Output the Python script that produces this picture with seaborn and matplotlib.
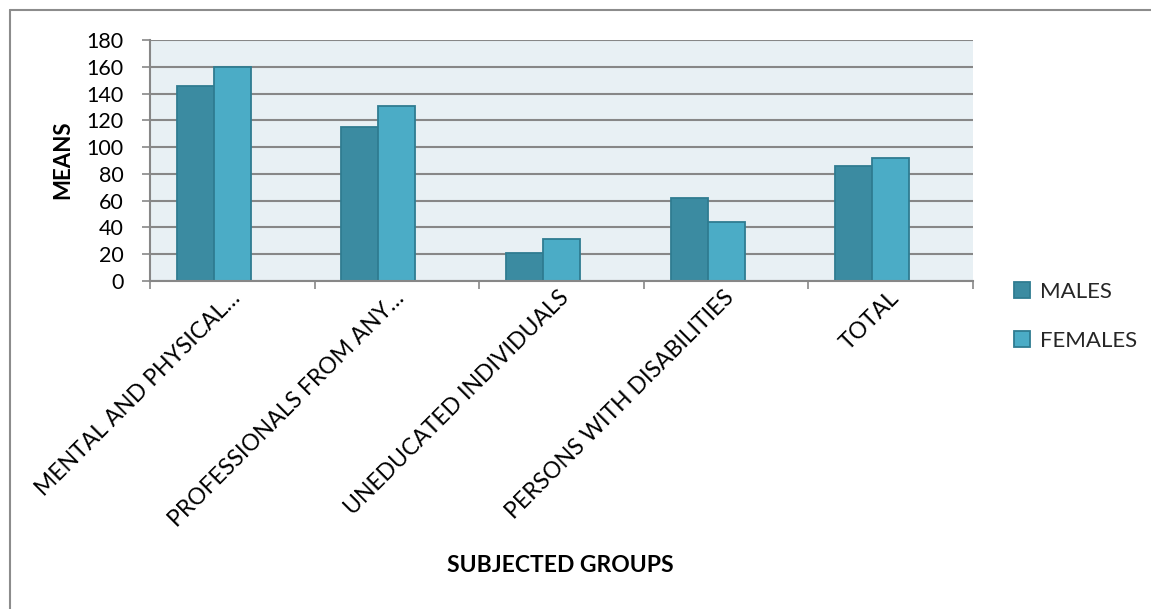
import matplotlib
matplotlib.use("Agg")
import matplotlib.pyplot as plt
from matplotlib.lines import Line2D
from matplotlib.patches import Patch
from matplotlib.transforms import ScaledTranslation
import pandas as pd
import seaborn as sns

# Mean scores per subjected group, split by sex
groups = [
    "MENTAL AND PHYSICAL\u2026",
    "PROFESSIONALS FROM ANY\u2026",
    "UNEDUCATED INDIVIDUALS",
    "PERSONS WITH DISABILITIES",
    "TOTAL",
]
males = [146, 115, 21, 62, 86]
females = [160, 131, 31, 44, 92]
series = ["MALES", "FEMALES"]
y_ticks = [0, 20, 40, 60, 80, 100, 120, 140, 160, 180]

df = pd.DataFrame({
    "group": groups * 2,
    "sex": [series[0]] * len(groups) + [series[1]] * len(groups),
    "mean": males + females,
})

male_color = "#3B8BA1"
female_color = "#4BACC6"
edge_color = "#2F7C91"
grid_color = "#878787"
face_color = "#E8F0F4"

sns.set_theme(style="white")
plt.rcParams["font.family"] = ["Lato", "DejaVu Sans"]

W, H, DPI = 1151, 609, 100
fig = plt.figure(figsize=(W / DPI, H / DPI), dpi=DPI)
ax = fig.add_axes([150 / W, 1 - 281 / H, (973 - 150) / W, (281 - 40) / H])
ax.set_facecolor(face_color)

# A third, empty hue slot keeps the pair of bars left of each category centre
hue_order = series + [" "]
palette = {series[0]: male_color, series[1]: female_color, " ": "none"}
sns.barplot(
    data=df, x="group", y="mean", hue="sex", hue_order=hue_order,
    order=groups, palette=palette, width=0.675, dodge=True,
    edgecolor=edge_color, linewidth=1.3, saturation=1, ax=ax,
    legend=False, zorder=3,
)

ax.set_xlim(-0.5, len(groups) - 0.5)
ax.set_ylim(0, 180)
ax.set_yticks(y_ticks)
ax.yaxis.grid(True, color=grid_color, linewidth=1.5, zorder=1)
ax.set_axisbelow(True)

for side in ("top", "right"):
    ax.spines[side].set_visible(False)
for side in ("left", "bottom"):
    ax.spines[side].set_color(grid_color)
    ax.spines[side].set_linewidth(1.5)
    ax.spines[side].set_zorder(4)

ax.tick_params(axis="y", which="major", direction="out", length=6,
               width=1.2, color=grid_color, labelsize=15.5, pad=13,
               labelcolor="#000000", left=True)

# Category boundaries carry the tick marks; labels sit on category centres
ax.set_xticks([i - 0.5 for i in range(len(groups) + 1)], minor=True)
ax.tick_params(axis="x", which="minor", direction="out", length=6,
               width=1.2, color=grid_color, bottom=True)
ax.set_xticks(range(len(groups)))
ax.set_xticklabels(groups)
ax.tick_params(axis="x", which="major", length=0, pad=13,
               labelsize=16.5, labelcolor="#000000")
shift = ScaledTranslation(9 / DPI, 0, fig.dpi_scale_trans)
for lab in ax.get_xticklabels():
    lab.set_rotation(45)
    lab.set_ha("right")
    lab.set_va("baseline")
    lab.set_rotation_mode("anchor")
    lab.set_transform(lab.get_transform() + shift)

ax.set_xlabel("")
ax.set_ylabel("")
fig.text(63 / W, 1 - 160 / H, "MEANS", rotation=90, ha="center",
         va="center", fontsize=16, fontweight="bold", color="#000000")
fig.text(560 / W, 1 - 565 / H, "SUBJECTED GROUPS", ha="center",
         va="center", fontsize=16.5, fontweight="bold", color="#000000")

handles = [
    Patch(facecolor=male_color, edgecolor=edge_color, linewidth=1.3),
    Patch(facecolor=female_color, edgecolor=edge_color, linewidth=1.3),
]
fig.legend(handles, series, loc="upper left",
           bbox_to_anchor=(1005 / W, 1 - 273 / H), frameon=False,
           fontsize=16, handlelength=0.72, handleheight=0.72,
           handletextpad=0.45, labelspacing=1.3, borderaxespad=0)

# Chart frame along the left and top edges
frame_kw = dict(color="#8C8C8C", linewidth=1.5, transform=fig.transFigure)
fig.add_artist(Line2D([10 / W, 10 / W], [0, 1 - 10 / H], **frame_kw))
fig.add_artist(Line2D([10 / W, 1], [1 - 10 / H, 1 - 10 / H], **frame_kw))

fig.savefig("out.png", dpi=DPI, facecolor="white")
